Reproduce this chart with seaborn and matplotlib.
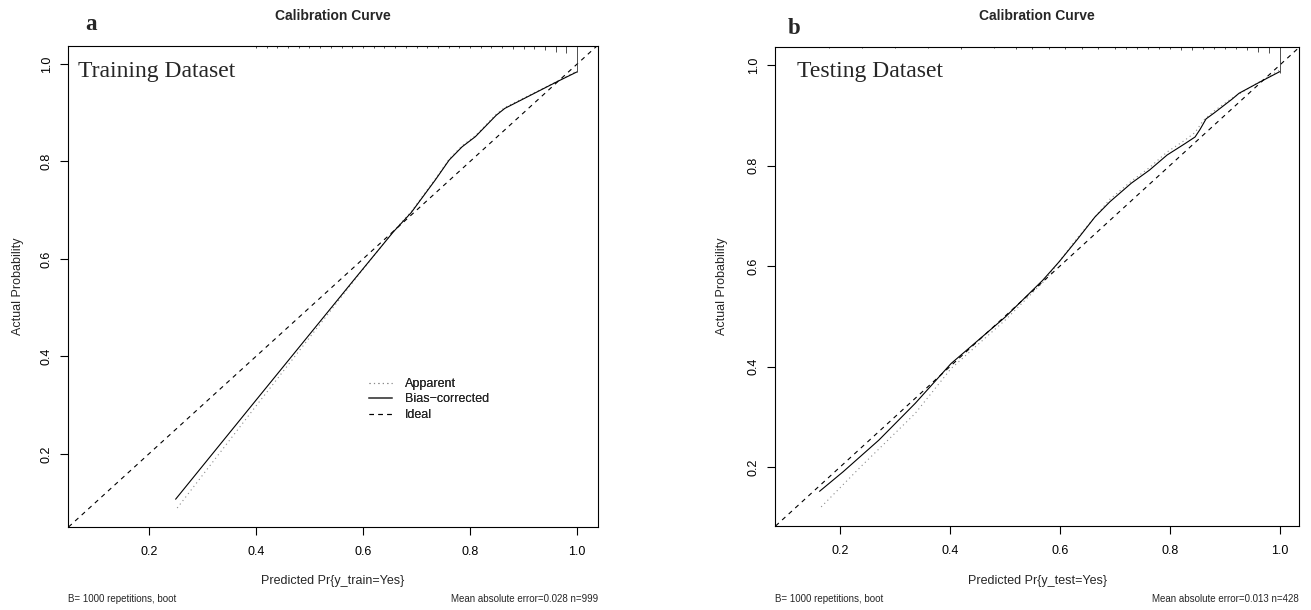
import numpy as np
import pandas as pd
import matplotlib
matplotlib.use("Agg")
import matplotlib.pyplot as plt
import seaborn as sns
from matplotlib.lines import Line2D

# ---------------- data ----------------
# Panel a: training dataset
train_app_x = [0.253, 0.400, 0.583, 0.657, 0.690, 0.735, 0.761, 0.785, 0.810, 0.849, 0.865, 0.963, 1.000]
train_app_y = [0.089, 0.298, 0.555, 0.657, 0.697, 0.764, 0.805, 0.832, 0.853, 0.897, 0.911, 0.965, 0.986]
train_cal_x = [0.250, 0.400, 0.583, 0.657, 0.690, 0.735, 0.761, 0.785, 0.810, 0.849, 0.865, 0.963, 1.000]
train_cal_y = [0.107, 0.310, 0.557, 0.656, 0.695, 0.762, 0.803, 0.830, 0.851, 0.895, 0.909, 0.964, 0.984]

# Panel b: testing dataset
test_app_x = [0.166, 0.238, 0.337, 0.402, 0.501, 0.573, 0.631, 0.691, 0.730, 0.763, 0.795, 0.828, 0.846, 0.861, 0.881, 0.913, 0.965, 1.000]
test_app_y = [0.121, 0.201, 0.307, 0.396, 0.493, 0.572, 0.655, 0.733, 0.769, 0.796, 0.827, 0.851, 0.866, 0.890, 0.909, 0.934, 0.968, 0.990]
test_cal_x = [0.163, 0.206, 0.271, 0.337, 0.402, 0.501, 0.569, 0.599, 0.631, 0.664, 0.691, 0.730, 0.763, 0.795, 0.828, 0.846, 0.855, 0.866, 0.881, 0.913, 0.926, 0.965, 1.000]
test_cal_y = [0.152, 0.191, 0.254, 0.327, 0.406, 0.499, 0.572, 0.609, 0.652, 0.698, 0.728, 0.765, 0.791, 0.821, 0.844, 0.857, 0.872, 0.893, 0.905, 0.932, 0.944, 0.967, 0.987]

# Distribution of predicted probabilities (rug along the top, relative tick size)
train_rug_x = [0.40, 0.42, 0.44, 0.46, 0.48, 0.50, 0.52, 0.54, 0.56, 0.58, 0.60, 0.62, 0.64, 0.66,
               0.68, 0.70, 0.72, 0.74, 0.76, 0.78, 0.80, 0.82, 0.84, 0.86, 0.88, 0.90, 0.92, 0.94,
               0.96, 0.98, 1.00]
train_rug_n = [1.5, 1.5, 1.5, 1.5, 1.5, 1.5, 1.5, 1.5, 1.5, 1.5, 1.5, 1.5, 1.5, 1.5,
               1.5, 1.5, 2, 2, 2, 2, 2, 2, 2, 2, 3, 3, 3, 4,
               6, 7, 26]
test_rug_x = [0.18, 0.24, 0.30, 0.36, 0.42, 0.48, 0.52, 0.55, 0.58, 0.61, 0.64, 0.67, 0.70, 0.72,
              0.74, 0.76, 0.78, 0.80, 0.82, 0.84, 0.86, 0.88, 0.90, 0.92, 0.94, 0.96, 0.98, 1.00]
test_rug_n = [1, 1, 1, 1, 2, 1, 1.5, 1.5, 1.5, 1.5, 1.5, 1.5, 1.5, 1.5,
              1.5, 1.5, 1.5, 2, 3, 3, 2, 2, 2, 2, 3, 5, 6, 26]

panel_letters = ["a", "b"]
dataset_names = ["Training Dataset", "Testing Dataset"]
x_labels = ["Predicted Pr{y_train=Yes}", "Predicted Pr{y_test=Yes}"]
y_label = "Actual Probability"
title = "Calibration Curve"
footer_left = "B= 1000 repetitions, boot"
footer_right = ["Mean absolute error=0.028 n=999", "Mean absolute error=0.013 n=428"]
legend_labels = ["Apparent", "Bias\u2212corrected", "Ideal"]
ticks = [0.2, 0.4, 0.6, 0.8, 1.0]
tick_labels = ["0.2", "0.4", "0.6", "0.8", "1.0"]

# ---------------- style ----------------
sns.set_style("ticks")
plt.rcParams['font.family'] = ['Liberation Sans', 'DejaVu Sans']
plt.rcParams['axes.linewidth'] = 0.8
plt.rcParams['axes.edgecolor'] = 'black'

W, H = 1311, 610
fig = plt.figure(figsize=(W / 100, H / 100), dpi=100)
fig.patch.set_facecolor("white")

# axes boxes in pixels: left, top, right, bottom
boxes = [(68, 46, 598, 527), (775, 47, 1299, 526)]
lims = [((0.049, 1.039), (0.050, 1.037)), ((0.082, 1.035), (0.083, 1.036))]
ylab_x = [18, 722]
letter_pos = [(91, 24), (794, 28)]
name_x = [78, 797]

LW = 0.8
series = [
    (train_app_x, train_app_y, train_cal_x, train_cal_y, train_rug_x, train_rug_n),
    (test_app_x, test_app_y, test_cal_x, test_cal_y, test_rug_x, test_rug_n),
]

for i, (box, lim, ser) in enumerate(zip(boxes, lims, series)):
    l, t, r, b = box
    aw, ah = r - l, b - t
    ax = fig.add_axes([l / W, (H - b) / H, aw / W, ah / H])
    app_x, app_y, cal_x, cal_y, rug_x, rug_n = ser

    df_app = pd.DataFrame({"p": app_x, "actual": app_y})
    df_cal = pd.DataFrame({"p": cal_x, "actual": cal_y})
    sns.lineplot(data=df_app, x="p", y="actual", ax=ax, sort=False, estimator=None,
                 color="#8a8a8a", linestyle=(0, (1, 3)), linewidth=LW)
    sns.lineplot(data=df_cal, x="p", y="actual", ax=ax, sort=False, estimator=None,
                 color="black", linewidth=LW)
    ax.axline((0, 0), slope=1, color="black", linestyle=(0, (4, 4)), linewidth=LW)

    # rug of predicted values along the top border
    ax.vlines(rug_x, [1 - n / ah for n in rug_n], 1, transform=ax.get_xaxis_transform(),
              color="#333333", linewidth=0.6)

    ax.set_xlim(*lim[0])
    ax.set_ylim(*lim[1])
    ax.set_xticks(ticks)
    ax.set_xticklabels(tick_labels)
    ax.set_yticks(ticks)
    ax.set_yticklabels(tick_labels, rotation=90, va="center")
    ax.tick_params(axis="both", direction="out", length=6, width=0.8, labelsize=9,
                   colors="black")
    ax.tick_params(axis="x", pad=8)
    ax.tick_params(axis="y", pad=5)
    for s in ax.spines.values():
        s.set_visible(True)
        s.set_linewidth(0.8)

    ax.set_xlabel(x_labels[i], fontsize=9, va="center")
    ax.xaxis.set_label_coords(0.5, (b - 581) / ah)
    ax.set_ylabel(y_label, fontsize=9, va="center")
    ax.yaxis.set_label_coords((ylab_x[i] - l) / aw, 0.5)

    ax.text(0.5, 1 + (t - 16) / ah, title, transform=ax.transAxes, ha="center",
            va="center", fontsize=10, fontweight="bold")
    lx, ly = letter_pos[i]
    ax.text((lx - l) / aw, 1 + (t - ly) / ah, panel_letters[i], transform=ax.transAxes,
            ha="center", va="center", fontsize=16.5, fontweight="bold",
            family=["Liberation Serif", "DejaVu Serif"])
    ax.text((name_x[i] - l) / aw, (b - 72) / ah, dataset_names[i], transform=ax.transAxes,
            ha="left", va="center", fontsize=17, family=["Liberation Serif", "DejaVu Serif"])
    ax.text(0, (b - 599) / ah, footer_left, transform=ax.transAxes, ha="left",
            va="center", fontsize=7)
    ax.text(1, (b - 599) / ah, footer_right[i], transform=ax.transAxes, ha="right",
            va="center", fontsize=7)

    handles = [
        Line2D([], [], color="#8a8a8a", linestyle=(0, (1, 3)), linewidth=LW),
        Line2D([], [], color="#555555", linewidth=1.2),
        Line2D([], [], color="black", linestyle=(0, (4, 4)), linewidth=LW),
    ]
    ax.legend(handles, legend_labels, loc="upper left",
              bbox_to_anchor=((369 - l) / aw, (b - 378) / ah), frameon=False,
              fontsize=9, handlelength=1.85, handletextpad=1.0, labelspacing=0.28,
              borderpad=0, borderaxespad=0)

fig.savefig("out.png", dpi=100, facecolor="white")
